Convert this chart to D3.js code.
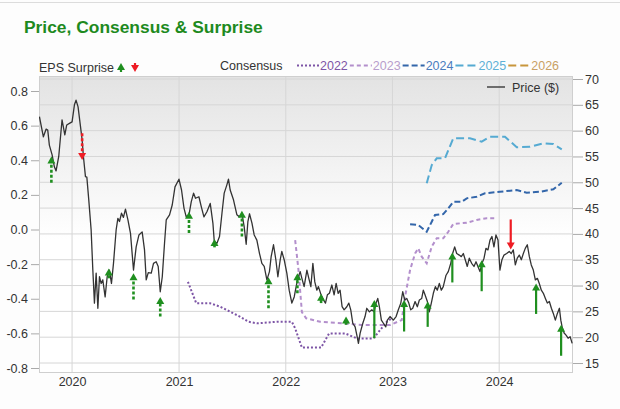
<!DOCTYPE html>
<html>
<head>
<meta charset="utf-8">
<script src="https://cdn.jsdelivr.net/npm/d3@7"></script>
<style>
  body { margin: 0; background: #fdfdfd; }
  text { font-family: "Liberation Sans", Arial, sans-serif; }
</style>
</head>
<body>
<svg id="chart" width="620" height="409"></svg>
<script>
// price ($), [decimal year, value]
const priceSeries = [
  [2019.694,62.7],[2019.731,58.8],[2019.757,60.3],[2019.772,60.1],[2019.787,57.2],[2019.813,55.3],[2019.834,53.0],[2019.850,52.2],[2019.875,55.0],[2019.906,62.1],[2019.932,59.2],[2019.950,61.1],[2019.975,61.4],
  [2020.000,61.7],[2020.022,65.0],[2020.037,65.9],[2020.056,64.6],[2020.075,61.4],[2020.094,58.2],[2020.106,55.0],[2020.125,51.1],[2020.138,51.0],[2020.156,46.6],[2020.178,40.8],[2020.194,33.0],[2020.209,26.6],[2020.225,32.4],[2020.241,25.6],[2020.256,31.7],[2020.272,30.4],[2020.287,31.1],[2020.309,27.8],[2020.328,31.7],[2020.349,33.0],[2020.368,30.4],[2020.387,34.3],[2020.412,40.8],[2020.428,43.0],[2020.443,42.4],[2020.462,44.0],[2020.480,43.2],[2020.499,44.8],[2020.522,42.7],[2020.546,40.1],[2020.574,33.0],[2020.599,37.5],[2020.625,39.8],[2020.655,40.4],[2020.677,36.9],[2020.693,31.1],[2020.712,32.5],[2020.740,32.4],[2020.761,34.3],[2020.786,34.6],[2020.805,33.7],[2020.824,28.8],[2020.843,31.7],[2020.864,38.2],[2020.880,42.7],[2020.911,43.7],[2020.936,45.6],[2020.962,49.1],[2020.999,50.6],
  [2021.023,48.5],[2021.046,45.0],[2021.067,43.3],[2021.093,43.7],[2021.114,46.2],[2021.136,47.9],[2021.154,46.9],[2021.186,47.2],[2021.208,45.3],[2021.233,43.3],[2021.261,44.3],[2021.292,45.9],[2021.317,42.1],[2021.330,38.5],[2021.355,38.2],[2021.379,39.5],[2021.402,44.0],[2021.423,47.9],[2021.448,49.5],[2021.463,50.6],[2021.479,48.5],[2021.510,46.6],[2021.542,43.7],[2021.566,43.3],[2021.589,44.0],[2021.610,41.4],[2021.629,38.0],[2021.645,42.4],[2021.660,43.9],[2021.683,42.1],[2021.704,39.8],[2021.729,38.8],[2021.754,36.2],[2021.776,34.3],[2021.798,33.7],[2021.823,31.1],[2021.847,32.7],[2021.863,35.6],[2021.885,37.9],[2021.907,35.0],[2021.926,31.7],[2021.948,35.0],[2021.963,36.6],[2021.985,35.0],
  [2022.010,32.4],[2022.032,29.1],[2022.057,26.6],[2022.079,27.8],[2022.097,29.8],[2022.113,31.4],[2022.135,32.7],[2022.151,31.4],[2022.172,29.8],[2022.198,33.0],[2022.216,31.4],[2022.235,29.8],[2022.254,34.3],[2022.272,30.7],[2022.291,29.1],[2022.306,29.8],[2022.331,28.2],[2022.353,27.2],[2022.372,26.6],[2022.390,28.2],[2022.409,28.5],[2022.432,30.1],[2022.453,28.2],[2022.472,30.4],[2022.491,28.5],[2022.509,29.1],[2022.528,25.9],[2022.547,25.3],[2022.572,25.9],[2022.591,26.6],[2022.609,25.3],[2022.628,22.7],[2022.650,22.0],[2022.666,20.4],[2022.681,18.8],[2022.697,20.8],[2022.722,22.7],[2022.743,24.0],[2022.759,25.6],[2022.784,24.9],[2022.806,25.3],[2022.828,24.9],[2022.846,26.6],[2022.862,27.5],[2022.877,25.9],[2022.896,23.3],[2022.915,22.7],[2022.937,22.0],[2022.952,23.3],[2022.977,24.0],
  [2023.008,23.3],[2023.034,24.0],[2023.055,25.3],[2023.078,26.6],[2023.096,28.8],[2023.115,27.2],[2023.134,27.5],[2023.153,26.6],[2023.171,25.3],[2023.190,25.6],[2023.212,26.9],[2023.233,25.9],[2023.252,27.2],[2023.274,27.5],[2023.289,29.1],[2023.305,28.2],[2023.327,26.9],[2023.345,24.9],[2023.364,26.6],[2023.383,28.5],[2023.402,29.8],[2023.420,29.1],[2023.439,30.4],[2023.458,29.1],[2023.476,29.8],[2023.502,32.0],[2023.523,32.7],[2023.546,34.3],[2023.564,36.2],[2023.583,37.5],[2023.602,36.2],[2023.626,35.9],[2023.645,35.6],[2023.664,36.2],[2023.682,35.0],[2023.701,33.7],[2023.720,35.3],[2023.742,34.3],[2023.764,33.7],[2023.783,34.6],[2023.801,33.7],[2023.820,32.7],[2023.839,34.3],[2023.858,35.3],[2023.876,37.2],[2023.895,36.9],[2023.914,38.8],[2023.932,39.5],[2023.951,37.5],[2023.970,39.8],[2023.989,38.8],
  [2024.007,33.0],[2024.026,35.0],[2024.045,35.9],[2024.070,36.2],[2024.094,36.6],[2024.113,36.2],[2024.132,36.9],[2024.151,34.0],[2024.169,35.3],[2024.188,35.9],[2024.207,35.0],[2024.226,36.2],[2024.244,37.2],[2024.263,37.9],[2024.282,35.6],[2024.300,34.0],[2024.319,33.0],[2024.338,31.1],[2024.357,31.4],[2024.375,30.4],[2024.394,29.1],[2024.413,28.5],[2024.432,27.5],[2024.450,26.6],[2024.469,26.9],[2024.488,25.6],[2024.506,24.6],[2024.525,23.3],[2024.544,24.6],[2024.563,25.6],[2024.576,23.3],[2024.588,22.0],[2024.607,20.8],[2024.625,20.4],[2024.644,19.8],[2024.663,20.1],[2024.682,18.8]
];

// consensus EPS by fiscal year (left axis)
const consensus2022 = [
  [2021.083,-0.302],[2021.161,-0.426],[2021.292,-0.426],[2021.386,-0.446],[2021.479,-0.475],[2021.573,-0.504],[2021.651,-0.533],[2021.729,-0.542],[2021.917,-0.533],[2022.057,-0.533],[2022.088,-0.571],[2022.151,-0.682],[2022.331,-0.682],[2022.406,-0.600],[2022.556,-0.600],[2022.666,-0.629],[2022.821,-0.629],[2022.884,-0.581],[2022.947,-0.533],[2022.996,-0.511]
];
const consensus2023 = [
  [2022.088,-0.061],[2022.119,-0.234],[2022.151,-0.477],[2022.191,-0.513],[2022.322,-0.533],[2022.540,-0.542],[2022.727,-0.552],[2022.977,-0.552],[2023.087,-0.523],[2023.118,-0.388],[2023.165,-0.234],[2023.212,-0.138],[2023.242,-0.109],[2023.274,-0.157],[2023.321,-0.195],[2023.368,-0.099],[2023.415,-0.051],[2023.476,-0.051],[2023.523,-0.013],[2023.570,0.032],[2023.696,0.039],[2023.789,0.055],[2023.883,0.065],[2023.977,0.065]
];
const consensus2024 = [
  [2023.165,0.030],[2023.242,0.026],[2023.321,-0.013],[2023.368,0.045],[2023.399,0.084],[2023.476,0.089],[2023.523,0.122],[2023.570,0.160],[2023.649,0.160],[2023.696,0.180],[2023.789,0.189],[2023.867,0.209],[2024.007,0.218],[2024.164,0.228],[2024.257,0.212],[2024.382,0.218],[2024.506,0.232],[2024.585,0.270]
];
const consensus2025 = [
  [2023.321,0.267],[2023.368,0.372],[2023.415,0.411],[2023.492,0.411],[2023.570,0.527],[2023.726,0.527],[2023.836,0.507],[2023.914,0.536],[2024.054,0.536],[2024.164,0.475],[2024.288,0.478],[2024.413,0.498],[2024.506,0.494],[2024.585,0.463]
];
const consensus2026 = [];

// EPS surprise arrows, drawn on the price line: [decimal year, from price, to price]
const surprises = [
  [2019.806,49.9,55.0],[2020.094,59.5,54.3],[2020.343,31.4,33.3],[2020.574,27.3,32.4],[2020.824,24.0,27.8],
  [2021.093,40.2,44.3],[2021.332,37.4,39.0],[2021.589,39.5,44.5],[2021.838,25.6,31.6],[2022.109,28.5,32.4],
  [2022.331,26.6,28.4],[2022.565,22.4,24.0],[2022.830,19.8,27.2],[2023.109,21.1,27.2],[2023.330,22.0,26.9],
  [2023.561,30.6,36.4],[2023.836,28.9,34.9],[2024.108,42.8,37.0],[2024.345,24.5,30.4],[2024.579,16.4,22.4]
];

const yearTicks = [2020, 2021, 2022, 2023, 2024];
const priceTicks = [15, 20, 25, 30, 35, 40, 45, 50, 55, 60, 65, 70];
const epsTicks = [-0.8, -0.6, -0.4, -0.2, 0.0, 0.2, 0.4, 0.6, 0.8];
const consensusYears = ['2022', '2023', '2024', '2025', '2026'];

const seriesStyle = {
  '2022': { line: '#7d55a6', text: '#7d55a6', dash: '2,2' },
  '2023': { line: '#b38fcc', text: '#b89dcc', dash: '4,3' },
  '2024': { line: '#3366aa', text: '#4a7cbd', dash: '6,3' },
  '2025': { line: '#55aad2', text: '#5eb0d6', dash: '8,4' },
  '2026': { line: '#c8963c', text: '#c9a164', dash: '8,4' },
};
const consensusData = {
  '2022': consensus2022, '2023': consensus2023, '2024': consensus2024, '2025': consensus2025, '2026': consensus2026,
};

const green = '#1f8f1f';
const red = '#ee1c24';

function yearToDate(y) {
  const yr = Math.floor(y);
  const start = new Date(yr, 0, 1);
  const end = new Date(yr + 1, 0, 1);
  return new Date(+start + (y - yr) * (end - start));
}

const svg = d3.select('#chart');
const plot = { left: 39, right: 573, top: 76, bottom: 373 };

const x = d3.scaleTime()
  .domain([yearToDate(2019.69), yearToDate(2024.69)])
  .range([plot.left, plot.right]);
const yPrice = d3.scaleLinear()
  .domain([15, 70])
  .range([363, 79]);
const yEps = d3.scaleLinear()
  .domain([-0.8, 0.8])
  .range([368, 91]);

// top border of the card
svg.append('line')
  .attr('x1', 0).attr('x2', 620)
  .attr('y1', 2.5).attr('y2', 2.5)
  .attr('stroke', '#dcdcdc');

svg.append('text')
  .attr('x', 24)
  .attr('y', 33)
  .attr('font-size', 17.4)
  .attr('font-weight', 'bold')
  .attr('fill', '#1e8a1e')
  .text('Price, Consensus & Surprise');

const defs = svg.append('defs');
const grad = defs.append('linearGradient')
  .attr('id', 'bg')
  .attr('x1', 0).attr('x2', 0).attr('y1', 0).attr('y2', 1);
grad.append('stop').attr('offset', '0%').attr('stop-color', '#e3e3e3');
grad.append('stop').attr('offset', '55%').attr('stop-color', '#ffffff');
defs.append('clipPath').attr('id', 'clip')
  .append('rect')
  .attr('x', plot.left).attr('y', plot.top)
  .attr('width', plot.right - plot.left).attr('height', plot.bottom - plot.top);

svg.append('rect')
  .attr('x', plot.left).attr('y', plot.top)
  .attr('width', plot.right - plot.left).attr('height', plot.bottom - plot.top)
  .attr('fill', 'url(#bg)');

// grid
svg.append('g')
  .selectAll('line')
  .data(priceTicks)
  .join('line')
  .attr('x1', plot.left).attr('x2', plot.right)
  .attr('y1', d => yPrice(d)).attr('y2', d => yPrice(d))
  .attr('stroke', '#d6d6d6');
svg.append('g')
  .selectAll('line')
  .data(yearTicks)
  .join('line')
  .attr('x1', d => x(yearToDate(d))).attr('x2', d => x(yearToDate(d)))
  .attr('y1', plot.top).attr('y2', plot.bottom)
  .attr('stroke', '#d6d6d6');

svg.append('rect')
  .attr('x', plot.left + 0.5).attr('y', plot.top + 0.5)
  .attr('width', plot.right - plot.left - 1).attr('height', plot.bottom - plot.top - 1)
  .attr('fill', 'none')
  .attr('stroke', '#cfcfcf');

// axes
const styleAxis = (g) => {
  g.select('.domain').remove();
  g.selectAll('.tick line').attr('stroke', '#aaa');
  g.selectAll('.tick text')
    .attr('fill', '#333')
    .attr('font-size', 12.5)
    .attr('font-family', '"Liberation Sans", Arial, sans-serif');
};

svg.append('g')
  .attr('transform', `translate(${plot.right}, 0)`)
  .call(d3.axisRight(yPrice).tickValues(priceTicks).tickSize(10).tickPadding(2))
  .call(styleAxis);

svg.append('g')
  .attr('transform', `translate(${plot.left}, 0)`)
  .call(d3.axisLeft(yEps).tickValues(epsTicks).tickSize(8).tickPadding(3).tickFormat(d => d.toFixed(1)))
  .call(styleAxis);

svg.append('g')
  .attr('transform', `translate(0, ${plot.bottom})`)
  .call(d3.axisBottom(x).tickValues(yearTicks.map(yearToDate)).tickSize(0).tickPadding(4).tickFormat(d3.timeFormat('%Y')))
  .call(styleAxis);

// consensus lines
const chartArea = svg.append('g').attr('clip-path', 'url(#clip)');
const epsLine = d3.line()
  .x(d => x(yearToDate(d[0])))
  .y(d => yEps(d[1]))
  .curve(d3.curveLinear);

consensusYears.forEach((yr) => {
  const data = consensusData[yr];
  if (!data.length) return;
  chartArea.append('path')
    .datum(data)
    .attr('d', epsLine)
    .attr('fill', 'none')
    .attr('stroke', seriesStyle[yr].line)
    .attr('stroke-width', 2)
    .attr('stroke-dasharray', seriesStyle[yr].dash);
});

// price
const priceLine = d3.line()
  .x(d => x(yearToDate(d[0])))
  .y(d => yPrice(d[1]));

chartArea.append('path')
  .datum(priceSeries)
  .attr('d', priceLine)
  .attr('fill', 'none')
  .attr('stroke', '#333')
  .attr('stroke-width', 1.3)
  .attr('stroke-linejoin', 'round');

// surprise arrows
function drawArrow(g, px, yFrom, yTo, color, dotted) {
  const up = yTo < yFrom;
  const dir = up ? 1 : -1;
  g.append('line')
    .attr('x1', px).attr('x2', px)
    .attr('y1', yFrom).attr('y2', yTo + dir * 5)
    .attr('stroke', color)
    .attr('stroke-width', dotted ? 2.6 : 2.2)
    .attr('stroke-dasharray', dotted ? '3,2' : null);
  g.append('path')
    .attr('d', `M${px},${yTo}L${px - 4},${yTo + dir * 7}L${px + 4},${yTo + dir * 7}Z`)
    .attr('fill', color);
}

const arrowLayer = chartArea.append('g');
surprises.forEach((d) => {
  const color = d[2] >= d[1] ? green : red;
  drawArrow(arrowLayer, x(yearToDate(d[0])), yPrice(d[1]), yPrice(d[2]), color, d[0] < 2022.7);
});

// legend: EPS surprise
svg.append('text')
  .attr('x', 39)
  .attr('y', 72)
  .attr('font-size', 12.5)
  .attr('fill', '#333')
  .text('EPS Surprise');
drawArrow(svg, 121, 72, 63, green, false);
drawArrow(svg, 135, 63, 72, red, false);

// legend: consensus
const legend = svg.append('g');
legend.append('text')
  .attr('x', 220)
  .attr('y', 70)
  .attr('font-size', 12.5)
  .attr('fill', '#333')
  .text('Consensus');

let lx = 297;
consensusYears.forEach((yr) => {
  legend.append('line')
    .attr('x1', lx).attr('x2', lx + 22)
    .attr('y1', 65.5).attr('y2', 65.5)
    .attr('stroke', seriesStyle[yr].line)
    .attr('stroke-width', 2)
    .attr('stroke-dasharray', seriesStyle[yr].dash);
  const t = legend.append('text')
    .attr('x', lx + 23)
    .attr('y', 70)
    .attr('font-size', 12.5)
    .attr('fill', seriesStyle[yr].text)
    .text(yr);
  lx += 23 + t.node().getComputedTextLength() + 2;
});

// legend: price
svg.append('line')
  .attr('x1', 487).attr('x2', 505)
  .attr('y1', 87).attr('y2', 87)
  .attr('stroke', '#444')
  .attr('stroke-width', 1.5);
svg.append('text')
  .attr('x', 512)
  .attr('y', 91.5)
  .attr('font-size', 12.5)
  .attr('fill', '#333')
  .text('Price ($)');
</script>
</body>
</html>
